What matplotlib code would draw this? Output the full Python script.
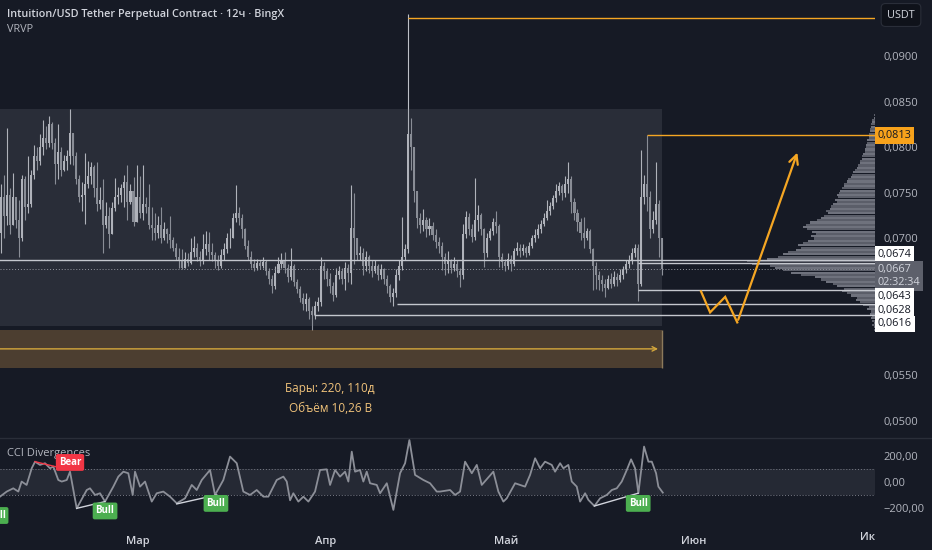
import matplotlib
matplotlib.use("Agg")
import matplotlib.pyplot as plt
import matplotlib.patches as mpatches
from matplotlib.ticker import FuncFormatter
import numpy as np

plt.rcParams['font.family'] = ['Open Sans', 'DejaVu Sans']

BG = "#161a25"
GRID_TXT = "#b2b5be"
ORANGE = "#f5a623"

# ---- 12h candles, prices in 1e-4 USDT, first bar at day -22.75 (day 0 = 1 Mar) ----
BAR_START = -22.75
OPEN_FIRST = 706
CLOSE = [745, 725, 748, 715, 745, 720, 700, 765, 735, 738, 770, 790, 785, 800, 810, 805, 825, 805, 782, 795,
         775, 785, 790, 816, 790, 765, 745, 748, 760, 768, 778, 755, 738, 742, 715, 725, 705, 733, 745, 748,
         755, 762, 740, 752, 718, 745, 728, 738, 735, 715, 712, 706, 715, 700, 710, 705, 698, 690, 680, 676,
         668, 678, 673, 685, 690, 680, 676, 688, 694, 685, 682, 675, 670, 682, 688, 700,
         700, 722, 728, 722, 710, 692, 680, 672, 668, 673, 670, 674, 664, 656, 648, 662, 672, 675, 668, 658,
         670, 652, 645, 635, 628, 634, 620, 616, 626, 630, 670, 664, 656, 648, 638, 660, 664, 656, 668, 662,
         712, 700, 682, 684, 670, 680, 670, 664, 670, 660, 666, 656, 648, 636, 640, 660, 670, 680, 688, 815,
         800, 752, 722, 715, 720, 710, 714, 704, 696, 692, 680, 672, 676,
         668, 672, 664, 660, 705, 724, 710, 702, 720, 726, 710, 684, 700, 708, 718, 714, 680, 674, 670, 678,
         672, 686, 690, 686, 690, 684, 692, 700, 704, 710, 716, 722, 730, 736, 744, 752, 758, 750, 760, 765,
         740, 728, 718, 706, 700, 708, 688, 670, 660, 655, 650, 646, 656, 650, 658, 654, 660, 666, 672, 676,
         684, 690, 650, 746, 760, 745, 710, 720, 738, 700, 667]
HIGH = [760, 770, 821, 755, 772, 742, 742, 770, 768, 790, 775, 802, 800, 815, 830, 823, 834, 828, 810, 826,
        800, 792, 797, 842, 800, 795, 770, 762, 794, 785, 784, 780, 784, 756, 765, 740, 735, 740, 766, 756,
        760, 770, 780, 760, 767, 780, 768, 780, 745, 760, 735, 728, 725, 735, 718, 712, 725, 702, 695, 690,
        688, 685, 684, 700, 703, 695, 686, 705, 708, 707, 695, 685, 682, 688, 695, 706,
        712, 728, 759, 735, 727, 712, 698, 686, 678, 678, 676, 680, 676, 668, 660, 670, 680, 684, 685, 672,
        690, 672, 656, 648, 640, 640, 636, 626, 632, 636, 680, 674, 668, 662, 652, 668, 670, 668, 674, 672,
        759, 750, 700, 692, 690, 686, 682, 676, 676, 672, 672, 668, 660, 650, 646, 666, 676, 724, 694, 946,
        832, 795, 740, 728, 732, 724, 722, 718, 710, 702, 696, 684, 686,
        678, 680, 676, 668, 716, 730, 728, 716, 766, 737, 728, 712, 706, 712, 722, 730, 716, 684, 678, 684,
        682, 690, 696, 694, 694, 692, 696, 704, 710, 716, 720, 728, 742, 740, 748, 760, 762, 760, 768, 784,
        768, 744, 732, 722, 724, 712, 710, 690, 674, 664, 660, 656, 660, 662, 664, 662, 666, 670, 676, 682,
        690, 694, 694, 797, 770, 813, 752, 730, 784, 742, 700]
LOW = [684, 700, 715, 705, 730, 712, 680, 697, 720, 728, 735, 765, 775, 780, 792, 798, 800, 798, 760, 765,
       768, 774, 775, 782, 780, 760, 740, 730, 716, 755, 760, 745, 730, 732, 684, 712, 690, 715, 730, 738,
       740, 735, 720, 738, 714, 735, 722, 720, 728, 710, 698, 698, 700, 695, 698, 695, 690, 686, 676, 668,
       666, 668, 670, 672, 680, 675, 670, 672, 682, 676, 675, 668, 665, 668, 676, 684,
       690, 700, 718, 715, 700, 688, 676, 668, 664, 665, 666, 668, 660, 650, 640, 645, 664, 668, 662, 652,
       655, 648, 640, 630, 622, 620, 612, 600, 612, 620, 626, 656, 648, 640, 632, 636, 656, 650, 644, 652,
       650, 672, 676, 676, 660, 664, 662, 658, 662, 654, 656, 650, 640, 630, 626, 636, 655, 665, 676, 684,
       775, 740, 712, 706, 708, 702, 704, 698, 690, 684, 665, 660, 662,
       662, 664, 658, 647, 656, 700, 704, 696, 698, 708, 704, 669, 680, 698, 704, 706, 669, 668, 664, 666,
       664, 670, 682, 680, 682, 680, 682, 690, 696, 700, 706, 714, 720, 726, 732, 740, 748, 742, 746, 750,
       728, 720, 708, 698, 690, 698, 684, 644, 645, 644, 642, 636, 645, 646, 648, 648, 652, 656, 662, 668,
       672, 680, 631, 648, 738, 730, 700, 706, 716, 680, 660]

# ---- CCI divergences panel ----
CCI_X = [-22.85, -21.74, -20.65, -19.82, -19.27, -18.44, -17.60, -17.05, -16.23, -15.40, -14.57, -14.02,
         -13.20, -12.63, -11.80, -11.26, -10.15, -8.49, -7.95, -7.12, -6.29, -5.46, -4.09, -3.26, -2.43,
         -1.61, -0.88, -0.50, 0.33, 1.16, 2.27, 3.10, 4.19, 5.30, 6.41, 7.78, 8.89, 9.72, 10.55, 11.92,
         12.75, 14.12, 15.23, 16.34, 17.43, 18.54, 19.65, 20.75, 21.57, 22.96, 24.06, 24.62, 25.17, 25.71,
         26.54, 27.37, 28.20, 29.30, 30.13, 31.24, 31.79, 32.62, 33.44, 34.27, 34.82, 35.38, 35.93, 36.75,
         37.30, 37.86, 38.41, 39.52, 40.07, 41.18, 42.27, 43.38, 44.21, 44.92, 45.86, 47.24, 48.34, 49.45,
         50.00, 51.66, 52.48, 53.31, 54.14, 55.25, 56.08, 56.90, 58.82, 59.65, 60.48, 61.04, 62.42, 64.07,
         64.90, 65.73, 66.56, 67.38, 68.49, 69.04, 69.87, 70.41, 71.24, 71.80, 72.63, 73.18, 74.01, 74.55,
         75.55, 76.49, 77.60, 78.43, 79.25, 80.08, 80.91, 81.62, 82.28, 82.83, 83.77, 84.49, 85.05, 85.76,
         86.14, 86.87]
CCI_V = [-113, -74, -49, -74, 3, -23, 105, 156, 131, 144, 105, 118, 15, 3, 15, 79, -203, -62, -49, -100,
         -87, -151, -36, 41, 79, 67, -100, 79, -36, 3, -151, -87, -74, -113, -164, -126, -23, -62, 15, 92,
         -100, 15, 195, 144, -74, -100, -62, -113, -113, 15, 41, 3, -141, -87, -151, -113, -151, -74, 92, 97,
         -23, 92, 41, 79, 3, 233, 79, 92, 3, 79, -10, -23, -87, -10, -215, 67, 144, 323, 54, 15, -10, -74,
         -74, -62, -100, -74, 156, 67, 131, -23, 79, -74, -151, -126, -10, -36, 54, 182, 105, 156, 131, 79,
         144, 105, 131, 3, -36, -151, -87, -138, -185, -126, -100, -62, -49, 3, 92, 174, 105, -87, 272, 156,
         156, 67, -36, -82]
BEAR_LINES = [([-17.05, -13.7], [156, 118])]
BULL_LINES = [([-10.15, -5.46], [-203, -151]), ([6.41, 13.03], [-169, -100]), ([75.55, 82.78], [-185, -87])]
BEAR_LABELS = [(-11.26, 150)]
BULL_LABELS = [(-23.5, -258), (-5.46, -223), (12.9, -165), (82.8, -165)]

# ---- visible-range volume profile (relative volume per 0.00025 row from 0.0600) ----
VP_LOW = 0.0600
VP_STEP = 0.00025
VP_VOL = [1, 1, 2, 1, 2, 3, 2, 4, 3, 6, 5, 9, 12, 15, 14, 19, 22, 26, 24, 30, 33, 38, 42, 47, 58, 66, 72, 78,
          82, 96, 100, 84, 76, 72, 68, 62, 58, 60, 56, 52, 48, 50, 46, 49, 53, 56, 54, 51, 45, 42, 40, 37,
          38, 35, 34, 33, 30, 31, 29, 30, 28, 27, 26, 24, 24, 22, 21, 19, 18, 17, 16, 14, 13, 12, 12, 10,
          10, 9, 8, 8, 7, 7, 6, 6, 5, 5, 5, 4, 4, 3, 3, 2, 2, 1, 1]

# ---- drawings ----
PRICE_TICKS = [0.050, 0.055, 0.070, 0.075, 0.080, 0.085, 0.090]
LEVELS_WHITE = [(0.0676, -23.0), (0.0673, 82.8), (0.0643, 82.8), (0.0628, 42.9), (0.0616, 29.1)]
LEVELS_ORANGE = [(0.0813, 84.3), (0.0942, 44.7)]
LAST_PRICE = 0.0667
RANGE_END = 86.75
RANGE_TOP, RANGE_BOT = 0.0842, 0.0604
DATE_TOP, DATE_BOT, DATE_ARROW = 0.0600, 0.0558, 0.0579
ZZ_X = [93.2, 94.7, 97.2, 99.2, 109.3]
ZZ_Y = [0.0642, 0.0619, 0.0636, 0.0608, 0.0797]
MONTH_TICKS = [0, 31, 61, 92]
MONTH_LABELS = ["Мар", "Апр", "Май", "Июн"]
XMIN, XMAX = -22.85, 122.0

fig = plt.figure(figsize=(9.32, 5.5), dpi=100, facecolor=BG)
W, H = 932, 550
ax = fig.add_axes([0, 1 - 437 / H, 875 / W, 437 / H])
cax = fig.add_axes([0, 1 - 522 / H, 875 / W, 84 / H])
for a in (ax, cax):
    a.set_facecolor(BG)
    for s in a.spines.values():
        s.set_visible(False)
    a.set_xlim(XMIN, XMAX)

ax.set_ylim(0.04824, 0.09614)
cax.set_ylim(-308, 338)

# candles
c = np.array(CLOSE) / 1e4
o = np.concatenate([[OPEN_FIRST / 1e4], c[:-1]])
hi = np.maximum(np.array(HIGH) / 1e4, np.maximum(o, c))
lo = np.minimum(np.array(LOW) / 1e4, np.minimum(o, c))
x = BAR_START + 0.5 * np.arange(len(c))
up = c >= o
cols = np.where(up, "#bdc0c8", "#8e929b")
ax.vlines(x, lo, hi, colors=cols, lw=0.8, zorder=2)
ax.bar(x, np.maximum(np.abs(c - o), 0.00007), bottom=np.minimum(o, c), width=0.34,
       color=cols, linewidth=0, zorder=2)

# price range box and date range box
ax.add_patch(mpatches.Rectangle((XMIN - 5, RANGE_BOT), RANGE_END - XMIN + 5, RANGE_TOP - RANGE_BOT,
                                fc="#787b86", alpha=0.2, lw=0, zorder=3))
ax.add_patch(mpatches.Rectangle((XMIN - 5, DATE_BOT), RANGE_END - XMIN + 5, DATE_TOP - DATE_BOT,
                                fc="#e0a050", alpha=0.27, lw=0, zorder=3))
ax.vlines(RANGE_END, DATE_BOT, DATE_TOP, color="#8c7a5c", lw=1, zorder=3)
ax.annotate("", xy=(RANGE_END - 0.2, DATE_ARROW), xytext=(XMIN - 1, DATE_ARROW),
            arrowprops=dict(arrowstyle="->", color="#d4a73c", lw=1, mutation_scale=8), zorder=4)
ax.text(31.8, 0.0536, "Бары: 220, 110д", color="#f0c27a", fontsize=8.5, ha="center", va="center")
ax.text(31.8, 0.0514, "Объём 10,26 B", color="#f0c27a", fontsize=8.5, ha="center", va="center")

# volume profile
vax = ax.inset_axes([1 - 128 / 875, 0, 128 / 875, 1])
vax.set_zorder(1.5)
vax.patch.set_visible(False)
vax.axis("off")
vp_y = VP_LOW + VP_STEP * np.arange(len(VP_VOL))
vp_cols = ["#6f727d" if i % 2 else "#5b5e69" for i in range(len(VP_VOL))]
vax.barh(vp_y, VP_VOL, height=VP_STEP * 0.92, color=vp_cols, linewidth=0)
vax.set_xlim(100, 0)
vax.set_ylim(ax.get_ylim())

# levels
for p, x0 in LEVELS_WHITE:
    ax.hlines(p, x0, XMAX, color="#c4c7ce", lw=1, zorder=4)
for p, x0 in LEVELS_ORANGE:
    ax.hlines(p, x0, XMAX, color=ORANGE, lw=1, zorder=4)
ax.axhline(LAST_PRICE, color="#9598a1", lw=0.7, ls=(0, (1, 2)), zorder=4)

# projected path
ax.plot(ZZ_X[:-1], ZZ_Y[:-1], color=ORANGE, lw=1.6, zorder=5, solid_joinstyle="miter")
ax.annotate("", xy=(ZZ_X[-1], ZZ_Y[-1]), xytext=(ZZ_X[-2], ZZ_Y[-2]),
            arrowprops=dict(arrowstyle="->", color=ORANGE, lw=1.6, mutation_scale=16), zorder=5)

# right price axis
ax.set_xticks([])
ax.yaxis.tick_right()
ax.set_yticks(PRICE_TICKS)
ax.yaxis.set_major_formatter(FuncFormatter(lambda v, _: f"{v:.4f}".replace(".", ",")))
ax.tick_params(axis="y", length=0, pad=6, labelsize=8, labelcolor=GRID_TXT)


def price_tag(p, txt, fc, tc, dy):
    ax.annotate(txt, xy=(1, p), xycoords=("axes fraction", "data"), xytext=(2, dy),
                textcoords="offset points", ha="left", va="center", fontsize=7.8, color=tc,
                bbox=dict(boxstyle="square,pad=0.26", fc=fc, ec="none"), annotation_clip=False, zorder=10)


price_tag(0.0813, "0,0813", "#f7a21b", "#131722", 0)
price_tag(0.0674, "0,0674", "white", "#131722", 5.5)
price_tag(0.0667, "0,0667\n02:32:34", "#5d606b", "#d1d4dc", -5.3)
price_tag(0.0643, "0,0643", "white", "#131722", -4.0)
price_tag(0.0628, "0,0628", "white", "#131722", -4.3)
price_tag(0.0616, "0,0616", "white", "#131722", -6.3)

# CCI panel
cax.axhspan(-100, 100, color="#787b86", alpha=0.16, lw=0)
for lv in (100, -100):
    cax.axhline(lv, color="#787b86", lw=0.7, ls=(0, (1, 2)))
cax.plot(CCI_X, CCI_V, color="#8c8f98", lw=1.3, zorder=3)
for xs, ys in BEAR_LINES:
    cax.plot(xs, ys, color="#f23645", lw=1, zorder=4)
for xs, ys in BULL_LINES:
    cax.plot(xs, ys, color="#d1d4dc", lw=1, zorder=4)
for bx, by in BEAR_LABELS:
    cax.text(bx, by, "Bear", color="white", fontsize=7, fontweight="bold", ha="center", va="center",
             bbox=dict(boxstyle="round,pad=0.3,rounding_size=0.2", fc="#f23645", ec="none"), zorder=6)
for bx, by in BULL_LABELS:
    cax.text(bx, by, "Bull", color="white", fontsize=7, fontweight="bold", ha="center", va="center",
             bbox=dict(boxstyle="round,pad=0.3,rounding_size=0.2", fc="#4caf50", ec="none"), zorder=6,
             clip_on=False)
cax.text(7 / 875, 0.82, "CCI Divergences", transform=cax.transAxes, color=GRID_TXT, fontsize=8,
         va="center", ha="left", zorder=5)
cax.yaxis.tick_right()
cax.set_yticks([200, 0, -200])
cax.set_yticklabels(["200,00", "0,00", "−200,00"])
cax.tick_params(axis="y", length=0, pad=6, labelsize=8, labelcolor=GRID_TXT)
cax.set_xticks(MONTH_TICKS)
cax.set_xticklabels(MONTH_LABELS)
cax.tick_params(axis="x", length=0, pad=10, labelsize=8, labelcolor="#d1d4dc")
for lab in cax.get_xticklabels():
    lab.set_fontweight("semibold")
cax.text(XMAX, -0.19, "Ик", transform=cax.get_xaxis_transform(), ha="right", va="center",
         fontsize=8, color="#d1d4dc", fontweight="semibold", clip_on=False)

# panel divider and header texts
fig.add_artist(plt.Line2D([0, 1], [1 - 437.5 / H] * 2, color="#2a2e39", lw=1))
fig.text(7 / W, 1 - 14 / H, "Intuition/USD Tether Perpetual Contract · 12ч · BingX", color="#d1d4dc",
         fontsize=7.8, fontweight="semibold", va="center", ha="left")
fig.text(7 / W, 1 - 29 / H, "VRVP", color=GRID_TXT, fontsize=7.8, va="center", ha="left")
fig.text(901 / W, 1 - 15 / H, "USDT", color="#d1d4dc", fontsize=7.8, ha="center", va="center",
         bbox=dict(boxstyle="round,pad=0.55,rounding_size=0.4", fc="#0f121a", ec="#2a2e39", lw=0.8))

fig.savefig("out.png", dpi=100, facecolor=BG)
